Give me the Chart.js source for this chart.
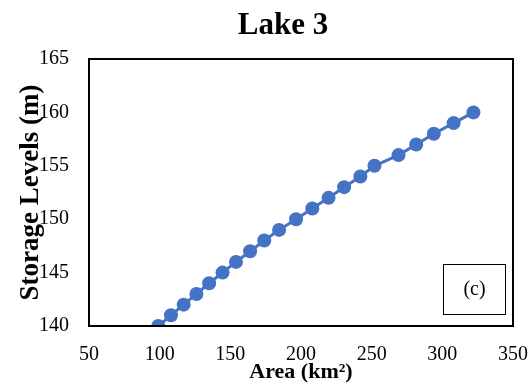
<!DOCTYPE html>
<html>
<head>
<meta charset="utf-8">
<script src="https://cdn.jsdelivr.net/npm/chart.js@4/dist/chart.umd.min.js"></script>
<style>
  html, body { margin: 0; padding: 0; background: #fff; }
  #wrap { width: 531px; height: 387px; }
</style>
</head>
<body>
<div id="wrap"><canvas id="chart" width="531" height="387"></canvas></div>
<script>
// Lake 3 area vs storage level
const areaKm2 = [99, 108, 117, 126, 135, 144.5, 154, 164, 174, 184.5, 196.5,
                 208, 219.5, 230.5, 242, 252, 269, 281.5, 294, 308, 322];
const storageLevels = [140, 141, 142, 143, 144, 145, 146, 147, 148, 149, 150,
                       151, 152, 153, 154, 155, 156, 157, 158, 159, 160];
const xTicks = [50, 100, 150, 200, 250, 300, 350];
const yTicks = [140, 145, 150, 155, 160, 165];

const SERIF = "'Liberation Serif', 'Times New Roman', serif";
const BLUE = "#4472C4";

// frame around plot, panel tag and title
const decor = {
  id: "decor",
  afterDraw(chart) {
    const {ctx, chartArea: a} = chart;
    ctx.save();
    ctx.strokeStyle = "#000";
    ctx.lineWidth = 2;
    ctx.strokeRect(a.left, a.top, a.right - a.left, a.bottom - a.top);

    // (c) tag box
    ctx.lineWidth = 1;
    ctx.strokeRect(443.5, 264.5, 62, 50);
    ctx.fillStyle = "#000";
    ctx.font = "20px " + SERIF;
    ctx.textAlign = "center";
    ctx.textBaseline = "middle";
    ctx.fillText("(c)", 474.5, 290);

    ctx.font = "bold 31px " + SERIF;
    ctx.textBaseline = "alphabetic";
    ctx.fillText("Lake 3", 283, 34);
    ctx.restore();
  }
};

new Chart(document.getElementById("chart"), {
  type: "scatter",
  data: {
    datasets: [{
      data: areaKm2.map((x, i) => ({x: x, y: storageLevels[i]})),
      showLine: true,
      borderColor: BLUE,
      backgroundColor: BLUE,
      borderWidth: 3,
      pointRadius: 7,
      pointHoverRadius: 7,
      pointBorderWidth: 0
    }]
  },
  options: {
    responsive: false,
    animation: false,
    layout: { padding: { top: 59, right: 18, left: 0, bottom: 0 } },
    plugins: { legend: { display: false }, tooltip: { enabled: false } },
    scales: {
      x: {
        type: "linear",
        min: 50, max: 350,
        afterBuildTicks: s => { s.ticks = xTicks.map(v => ({value: v})); },
        afterFit: s => { s.height = 61; s.paddingLeft = 0; s.paddingRight = 0; },
        grid: { display: false, drawTicks: false },
        border: { display: false },
        ticks: { color: "#000", padding: 17, font: { family: SERIF, size: 20 } },
        title: {
          display: true, text: "Area (km²)", color: "#000",
          font: { family: SERIF, size: 22, weight: "bold" },
          padding: { top: 0, bottom: 1 }
        }
      },
      y: {
        min: 140, max: 165,
        afterBuildTicks: s => { s.ticks = yTicks.map(v => ({value: v})); },
        afterFit: s => { s.width = 89; s.paddingTop = 0; s.paddingBottom = 0; },
        grid: { display: false, drawTicks: false },
        border: { display: false },
        ticks: { color: "#000", padding: 20, font: { family: SERIF, size: 20 } },
        title: {
          display: true, text: "Storage Levels (m)", color: "#000",
          font: { family: SERIF, size: 27, weight: "bold" },
          padding: { top: 15, bottom: 0 }
        }
      }
    }
  },
  plugins: [decor]
});
</script>
</body>
</html>
